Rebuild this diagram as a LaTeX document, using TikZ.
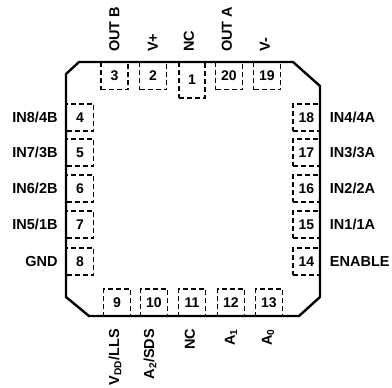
\documentclass[tikz,border=0pt]{standalone}
\usepackage{fontspec}
\setmainfont{Liberation Sans}
\usetikzlibrary{positioning}
\tikzset{
  pinbox/.style={draw, dashed, dash pattern=on 5pt off 3pt, line width=1.5pt, inner sep=0pt,
    minimum width=27pt, minimum height=27pt, font=\fontsize{14}{15}\selectfont\bfseries},
  pinname/.style={inner sep=0pt, font=\fontsize{14.5}{15}\selectfont\bfseries},
}
\begin{document}
\begin{tikzpicture}[x=1pt, y=-1pt]
\useasboundingbox (0,0) rectangle (392,388);
% pins along the top
\foreach \n/\px in {3/114.5, 2/153, 20/229, 19/267}
  \node[pinbox] (p\n) at (\px,76) {\n};
\node[pinbox, minimum width=26pt, minimum height=36pt] (p1) at (192,80) {1};
% pins along the left and right
\foreach \n/\py in {4/117.5, 5/152.5, 6/188.5, 7/224.5, 8/261.5}
  \node[pinbox] (p\n) at (80,\py) {\n};
\foreach \n/\py in {18/117.5, 17/152.5, 16/188.5, 15/224.5, 14/261.5}
  \node[pinbox] (p\n) at (306.5,\py) {\n};
% pins along the bottom
\foreach \n/\px in {9/117, 10/154, 11/192, 12/231, 13/269}
  \node[pinbox] (p\n) at (\px,302.5) {\n};
% package outline
\draw[line width=2.4pt, line join=miter] (79,62) -- (293,62) -- (320,86) -- (320,297) -- (299,316)
  -- (89,316) -- (66,297) -- (66,74) -- cycle;
% names of the pins
\foreach \n/\t in {4/{IN8/4B}, 5/{IN7/3B}, 6/{IN6/2B}, 7/{IN5/1B}, 8/GND}
  \node[pinname, left=8pt of p\n] (l\n) {\t};
\foreach \n/\t in {18/{IN4/4A}, 17/{IN3/3A}, 16/{IN2/2A}, 15/{IN1/1A}, 14/ENABLE}
  \node[pinname, right=9pt of p\n] (l\n) {\t};
\foreach \n/\t/\dx in {3/OUT B/0, 2/V+/0, 1/NC/-3, 20/OUT A/-2, 19/V-/-2}
  \node[pinname, rotate=90, anchor=west] (l\n) at ([xshift=\dx pt, yshift=10pt]p\n.north |- 0,62) {\t};
\foreach \n/\t/\dx in {9/{V\textsubscript{DD}/LLS}/-2, 10/{A\textsubscript{2}/SDS}/-4, 11/NC/-2, 12/A\textsubscript{1}/0, 13/A\textsubscript{0}/-1}
  \node[pinname, rotate=90, anchor=east] (l\n) at ([xshift=\dx pt, yshift=-12pt]p\n.south) {\t};
\end{tikzpicture}
\end{document}
